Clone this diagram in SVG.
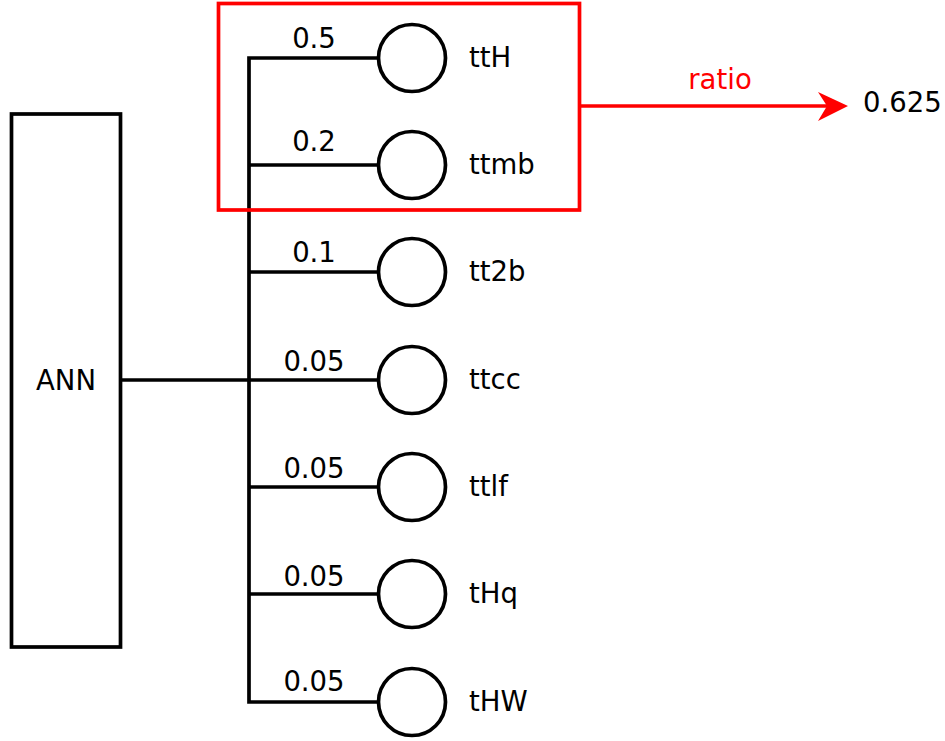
<svg xmlns="http://www.w3.org/2000/svg" width="945" height="741" viewBox="0 0 945 741">
  <style>
    .ln { fill: none; stroke: #000; stroke-width: 3.7; }
    .red { fill: none; stroke: #ff0000; stroke-width: 3.7; }
    .node { fill: #fff; stroke: #000; stroke-width: 3.7; }
    text { font-family: "DejaVu Sans", sans-serif; font-size: 27.5px; fill: #000; }
    .w { text-anchor: middle; }
    .rt { fill: #ff0000; text-anchor: middle; }
  </style>
  <rect width="945" height="741" fill="#fff"/>

  <g id="connectors">
    <line class="ln" x1="120" y1="380" x2="249" y2="380"/>
    <path class="ln" d="M378,58 H249 V702 H378"/>
    <line class="ln" x1="249" y1="165" x2="378" y2="165"/>
    <line class="ln" x1="249" y1="272" x2="378" y2="272"/>
    <line class="ln" x1="249" y1="380" x2="378" y2="380"/>
    <line class="ln" x1="249" y1="487" x2="378" y2="487"/>
    <line class="ln" x1="249" y1="594" x2="378" y2="594"/>
    <text class="w" x="314" y="48">0.5</text>
    <text class="w" x="314" y="151">0.2</text>
    <text class="w" x="314" y="262">0.1</text>
    <text class="w" x="314" y="371">0.05</text>
    <text class="w" x="314" y="478">0.05</text>
    <text class="w" x="314" y="586">0.05</text>
    <text class="w" x="314" y="691">0.05</text>
  </g>

  <g id="ann">
    <rect class="node" x="11.5" y="114" width="109" height="533"/>
    <text x="66" y="390" text-anchor="middle">ANN</text>
  </g>

  <g id="ttH"><circle class="node" cx="412" cy="58" r="33.5"/><text x="469" y="67">ttH</text></g>
  <g id="ttmb"><circle class="node" cx="412" cy="165" r="33.5"/><text x="469" y="174">ttmb</text></g>
  <g id="tt2b"><circle class="node" cx="412" cy="272" r="33.5"/><text x="469" y="281">tt2b</text></g>
  <g id="ttcc"><circle class="node" cx="412" cy="380" r="33.5"/><text x="469" y="389">ttcc</text></g>
  <g id="ttlf"><circle class="node" cx="412" cy="487" r="33.5"/><text x="469" y="496">ttlf</text></g>
  <g id="tHq"><circle class="node" cx="412" cy="594" r="33.5"/><text x="469" y="603">tHq</text></g>
  <g id="tHW"><circle class="node" cx="412" cy="702" r="33.5"/><text x="469" y="711">tHW</text></g>

  <g id="selection">
    <rect class="red" x="218.5" y="3.5" width="361" height="206.5"/>
  </g>

  <g id="ratio">
    <line class="red" x1="579" y1="106" x2="830" y2="106"/>
    <path d="M848,106 L818,92 L827,106 L818,121 Z" fill="#ff0000"/>
    <text class="rt" x="720" y="89">ratio</text>
    <text x="863" y="112">0.625</text>
  </g>
</svg>
